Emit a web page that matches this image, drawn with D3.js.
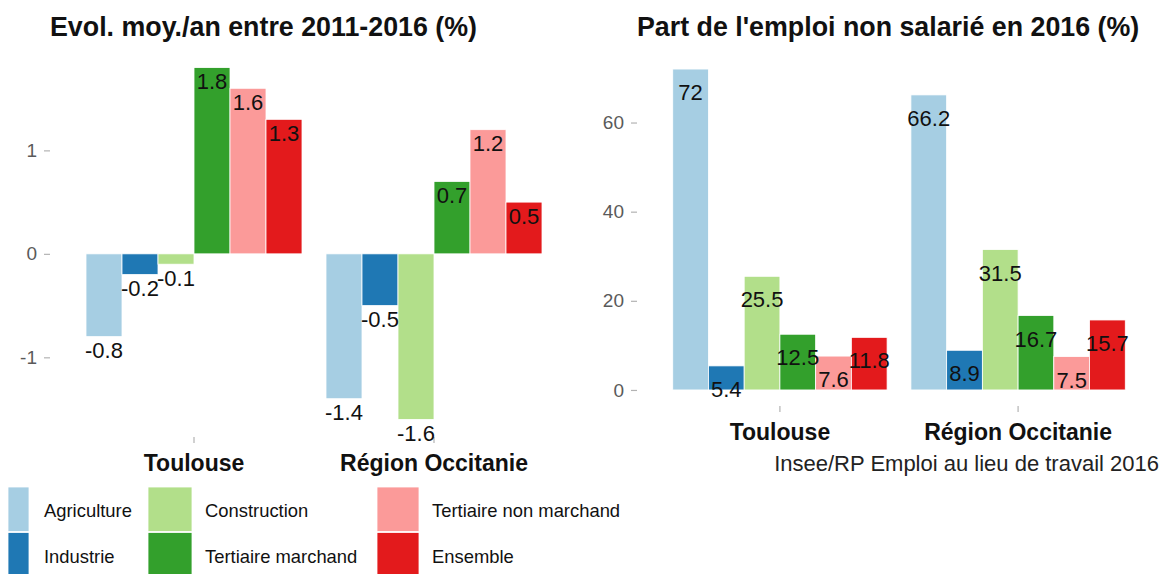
<!DOCTYPE html>
<html>
<head>
<meta charset="utf-8">
<script src="https://cdn.jsdelivr.net/npm/d3@7"></script>
<style>
  body { margin: 0; background: #fff; }
  svg { display: block; font-family: "Liberation Sans", Arial, sans-serif; }
</style>
</head>
<body>
<svg id="chart"></svg>
<script>
// data
var zones = ["Toulouse", "Région Occitanie"];
var sectors = ["Agriculture", "Industrie", "Construction", "Tertiaire marchand", "Tertiaire non marchand", "Ensemble"];
var sectorColors = ["#A6CEE3", "#1F78B4", "#B2DF8A", "#33A02C", "#FB9A99", "#E31A1C"];

var evolToulouse = [-0.8, -0.2, -0.1, 1.8, 1.6, 1.3];
var evolRegion = [-1.4, -0.5, -1.6, 0.7, 1.2, 0.5];
var evolTicks = [-1, 0, 1];

var partToulouse = [72, 5.4, 25.5, 12.5, 7.6, 11.8];
var partRegion = [66.2, 8.9, 31.5, 16.7, 7.5, 15.7];
var partTicks = [0, 20, 40, 60];

var titleLeft = "Evol. moy./an entre 2011-2016 (%)";
var titleRight = "Part de l'emploi non salarié en 2016 (%)";
var caption = "Insee/RP Emploi au lieu de travail 2016";

var width = 1165,
    height = 574;

var svg = d3.select("#chart")
    .attr("width", width)
    .attr("height", height);

var color = d3.scaleOrdinal().domain(sectors).range(sectorColors);

function rows(toulouse, region) {
  var out = [];
  sectors.forEach(function(s, i) {
    out.push({ zone: zones[0], sector: s, value: toulouse[i] });
    out.push({ zone: zones[1], sector: s, value: region[i] });
  });
  return out;
}

function drawPanel(opts) {
  var g = svg.append("g");

  var x = d3.scaleBand()
      .domain(zones)
      .range([opts.left, opts.right])
      .paddingInner(0.1)
      .paddingOuter(0.15);

  var xs = d3.scaleBand()
      .domain(sectors)
      .range([0, x.bandwidth()]);

  var y = d3.scaleLinear()
      .domain(opts.domain)
      .range([opts.bottom, opts.top]);

  // title
  g.append("text")
      .attr("x", opts.left)
      .attr("y", 36)
      .attr("font-size", 26.8)
      .attr("font-weight", "bold")
      .attr("fill", "#111")
      .text(opts.title);

  // y axis (plain hyphen for negatives, like the source)
  var yAxis = g.append("g")
      .attr("transform", "translate(" + opts.left + ",0)")
      .call(d3.axisLeft(y).tickValues(opts.ticks).tickSize(6).tickPadding(7)
        .tickFormat(function(d) { return String(d); }));
  yAxis.select(".domain").remove();
  yAxis.selectAll(".tick line").attr("stroke", "#b3b3b3").attr("stroke-width", 1.2);
  yAxis.selectAll(".tick text")
      .attr("font-size", 19)
      .attr("font-family", "Liberation Sans, Arial, sans-serif")
      .attr("fill", "#5a5a5a");

  // x axis
  var xAxis = g.append("g")
      .attr("transform", "translate(0," + opts.bottom + ")")
      .call(d3.axisBottom(x).tickSize(6).tickPadding(10));
  xAxis.select(".domain").remove();
  xAxis.selectAll(".tick line").attr("stroke", "#b3b3b3").attr("stroke-width", 1.2);
  xAxis.selectAll(".tick text")
      .attr("font-size", 23)
      .attr("font-weight", "bold")
      .attr("font-family", "Liberation Sans, Arial, sans-serif")
      .attr("fill", "#111")
      .attr("dy", null)
      .attr("y", 34);

  // bars
  g.append("g")
    .selectAll("rect")
    .data(opts.data)
    .enter().append("rect")
      .attr("x", function(d) { return x(d.zone) + xs(d.sector); })
      .attr("width", xs.bandwidth())
      .attr("y", function(d) { return y(Math.max(0, d.value)); })
      .attr("height", function(d) { return Math.abs(y(d.value) - y(0)); })
      .attr("fill", function(d) { return color(d.sector); })
      .attr("stroke", "#fff")
      .attr("stroke-width", 0.8);

  // value labels
  g.append("g")
    .selectAll("text")
    .data(opts.data)
    .enter().append("text")
      .attr("x", function(d) { return x(d.zone) + xs(d.sector) + xs.bandwidth() / 2; })
      .attr("y", function(d) { return y(d.value) + opts.labelShift; })
      .attr("text-anchor", "middle")
      .attr("font-size", 22)
      .attr("fill", "#111")
      .text(function(d) { return d.value; });
}

drawPanel({
  title: titleLeft,
  data: rows(evolToulouse, evolRegion),
  ticks: evolTicks,
  domain: [-1.77, 1.97],
  left: 50, right: 578,
  top: 50, bottom: 437,
  labelShift: 21.5
});

drawPanel({
  title: titleRight,
  data: rows(partToulouse, partRegion),
  ticks: partTicks,
  domain: [-3.6, 75.6],
  left: 637, right: 1161,
  top: 53, bottom: 406,
  labelShift: 31
});

// caption
svg.append("text")
    .attr("x", 1159)
    .attr("y", 471)
    .attr("text-anchor", "end")
    .attr("font-size", 22)
    .attr("fill", "#222")
    .text(caption);

// legend: 3 columns x 2 rows, filled by column
var legendCols = [
  { x: 8, w: 21, tx: 44 },
  { x: 148, w: 44, tx: 205 },
  { x: 377, w: 42, tx: 432 }
];
var legendRows = [487, 532.5];
var keyH = 44.5;

var legend = svg.append("g")
  .selectAll("g")
  .data(sectors)
  .enter().append("g")
    .attr("transform", function(d, i) {
      var c = legendCols[Math.floor(i / 2)];
      return "translate(" + c.x + "," + legendRows[i % 2] + ")";
    });

legend.append("rect")
    .attr("width", function(d, i) { return legendCols[Math.floor(i / 2)].w; })
    .attr("height", keyH)
    .attr("fill", function(d) { return color(d); })
    .attr("stroke", "#fff")
    .attr("stroke-width", 0.8);

legend.append("text")
    .attr("x", function(d, i) { var c = legendCols[Math.floor(i / 2)]; return c.tx - c.x; })
    .attr("y", 30)
    .attr("font-size", 18.4)
    .attr("fill", "#111")
    .text(function(d) { return d; });
</script>
</body>
</html>
